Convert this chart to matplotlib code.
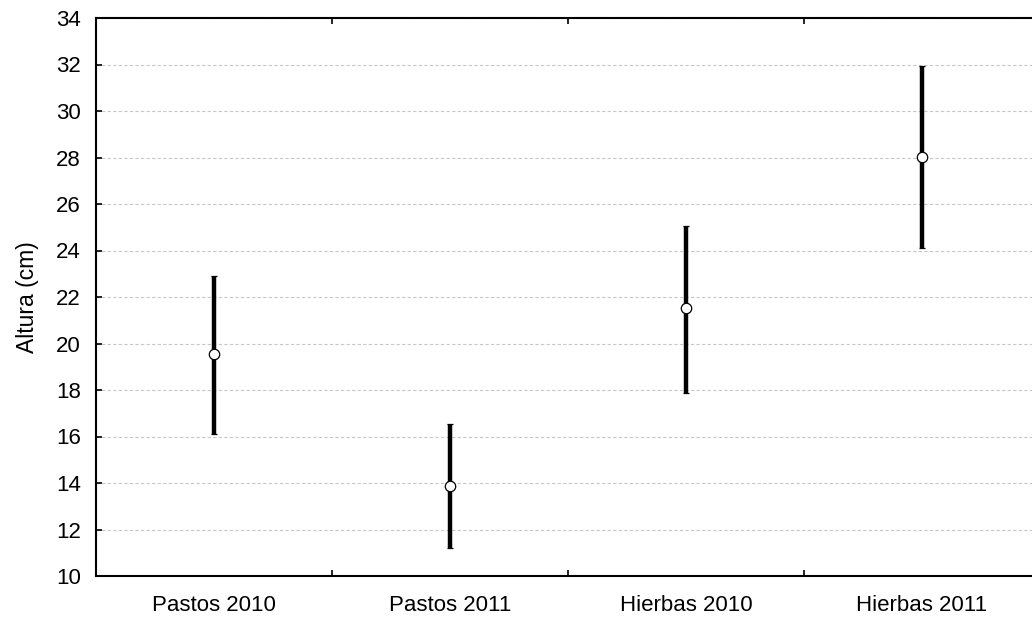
import matplotlib
matplotlib.use("Agg")
import matplotlib.pyplot as plt

categories = ["Pastos 2010", "Pastos 2011", "Hierbas 2010", "Hierbas 2011"]
means = [19.55, 13.87, 21.53, 28.02]
upper = [22.9, 16.54, 25.05, 31.94]
lower = [16.1, 11.2, 17.87, 24.1]
yticks = [10, 12, 14, 16, 18, 20, 22, 24, 26, 28, 30, 32, 34]

plt.rcParams['font.family'] = ['Liberation Sans', 'DejaVu Sans']

W, H = 1032, 617
fig = plt.figure(figsize=(W/100, H/100), dpi=100)
ax = fig.add_axes([96/W, 41/H, 944/W, 558/H])

x = list(range(1, len(categories)+1))
yerr = [[m - l for m, l in zip(means, lower)], [u - m for m, u in zip(means, upper)]]
ax.errorbar(x, means, yerr=yerr, fmt='o', color='black', ecolor='black',
            elinewidth=3.2, capsize=2.2, capthick=2.5, markersize=7.5,
            markerfacecolor='white', markeredgecolor='black', markeredgewidth=0.9,
            zorder=3)

ax.set_xlim(0.5, 4.5)
ax.set_ylim(10, 34)
ax.set_yticks(yticks)
ax.set_xticks(x)
ax.set_xticklabels(categories)
ax.set_xticks([1.5, 2.5, 3.5], minor=True)
ax.tick_params(axis='x', which='major', length=0, labelsize=16, pad=14)
ax.tick_params(axis='x', which='minor', direction='in', length=4, width=1.2, top=True, bottom=True)
ax.tick_params(axis='y', direction='in', length=4, width=1.2, labelsize=16, pad=11)
ax.yaxis.grid(True, linestyle=(0, (3, 2)), color='#c8c8c8', linewidth=0.8)
ax.set_axisbelow(True)
for s in ['left', 'bottom', 'top']:
    ax.spines[s].set_linewidth(1.5)
ax.spines['right'].set_visible(False)
ax.set_ylabel("Altura (cm)", fontsize=16.5, labelpad=12)

fig.savefig("out.png", dpi=100)
